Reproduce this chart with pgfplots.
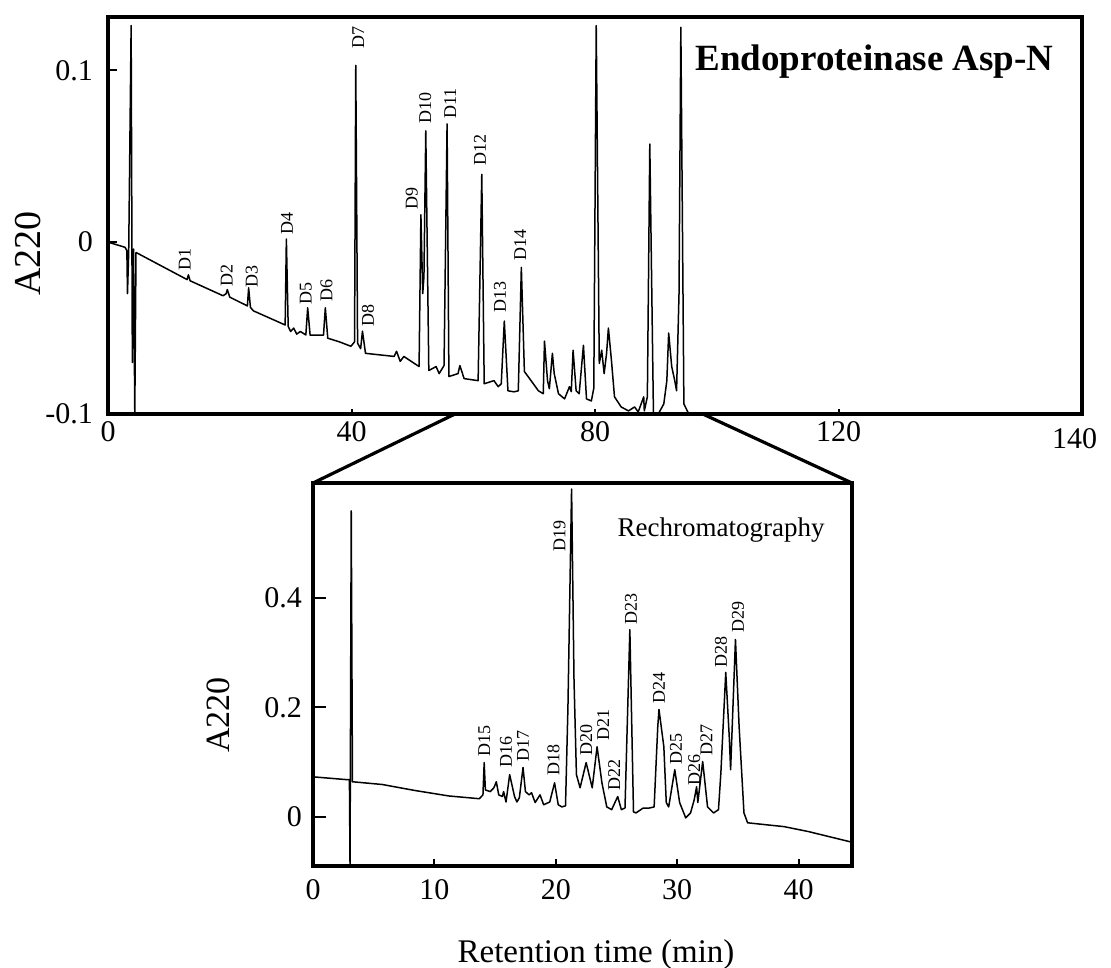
\documentclass[border=0pt]{standalone}
\usepackage{fontspec}
\setmainfont{Liberation Serif}
\usepackage{pgfplots}
\usepackage{pgfplotstable}
\pgfplotsset{compat=1.18}

\pgfplotstableread{
x y
0 0
2.8 -0.003
3.1 -0.005
3.2 -0.030
3.4 -0.006
3.8 0.126
4.0 -0.07
4.2 -0.004
4.4 -0.1
4.6 -0.006
13.0 -0.0218
13.2 -0.019
13.5 -0.0225
18.9 -0.0312
19.4 -0.030
19.6 -0.0276
20.0 -0.032
22.9 -0.0371
23.1 -0.0265
23.4 -0.038
23.9 -0.0400
29.1 -0.0482
29.3 0.0018
29.6 -0.049
30.0 -0.0520
30.5 -0.050
31.0 -0.0535
31.6 -0.052
32.5 -0.054
32.8 -0.0382
33.2 -0.0541
35.4 -0.0541
35.7 -0.0382
36.1 -0.0559
38.0 -0.058
39.9 -0.0606
40.5 -0.058
40.7 0.1029
41.0 -0.0588
41.5 -0.062
41.8 -0.0518
42.3 -0.0647
47.0 -0.0665
47.4 -0.0635
48.0 -0.0694
48.6 -0.0665
51.1 -0.0724
51.4 0.0159
51.7 -0.030
51.9 -0.020
52.2 0.0647
52.7 -0.0747
53.9 -0.0724
54.4 -0.0765
55.2 -0.0718
55.7 0.0688
56.0 -0.0782
57.5 -0.0765
57.8 -0.0718
58.5 -0.0794
60.8 -0.0806
61.4 0.0394
61.8 -0.0824
63.4 -0.0806
64.1 -0.0841
64.6 -0.0824
65.1 -0.0459
65.7 -0.0865
66.7 -0.0871
67.4 -0.0865
67.9 -0.0147
68.4 -0.0753
69.5 -0.0806
70.7 -0.0865
71.5 -0.0882
71.7 -0.0576
72.2 -0.0806
72.5 -0.0853
73.0 -0.0647
73.3 -0.0765
74.0 -0.0882
75.0 -0.0912
75.8 -0.0841
76.1 -0.087
76.4 -0.0629
76.9 -0.0865
77.4 -0.0882
78.1 -0.0600
78.6 -0.0912
79.4 -0.0924
79.8 -0.085
80.2 0.126
80.7 -0.0706
81.1 -0.0629
81.5 -0.0765
81.9 -0.0647
82.2 -0.0500
82.7 -0.0688
83.2 -0.0900
84.3 -0.0959
85.5 -0.0982
86.5 -0.0959
87.1 -0.0988
88.0 -0.0900
88.1 -0.0982
88.6 -0.090
89.0 0.0571
89.6 -0.1
90.4 -0.1
91.3 -0.0941
91.8 -0.0806
92.1 -0.0529
92.6 -0.0724
93.1 -0.0806
93.4 -0.0865
93.8 -0.030
94.1 0.125
94.6 -0.0941
95.4 -0.1
96.0 -0.1
}\digest

\pgfplotstableread{
x y
0 0.073
2.7 0.068
3.0 0.068
3.05 -0.09
3.15 0.559
3.25 0.064
5.7 0.059
8.4 0.048
11.2 0.038
13.7 0.033
14.0 0.040
14.1 0.099
14.2 0.049
14.6 0.046
14.9 0.053
15.1 0.064
15.3 0.040
15.6 0.037
15.7 0.046
15.9 0.027
16.2 0.077
16.6 0.037
16.8 0.027
17.0 0.035
17.3 0.090
17.5 0.046
17.8 0.040
18.0 0.044
18.3 0.026
18.7 0.040
19.0 0.022
19.5 0.027
19.9 0.062
20.2 0.022
20.5 0.018
20.8 0.020
21.0 0.200
21.3 0.599
21.5 0.250
21.7 0.077
22.0 0.053
22.5 0.099
23.0 0.053
23.4 0.128
23.8 0.062
24.2 0.018
24.6 0.013
25.1 0.037
25.4 0.013
25.7 0.016
26.1 0.342
26.4 0.009
26.6 0.007
27.2 0.016
27.7 0.016
28.1 0.018
28.4 0.165
28.5 0.196
28.9 0.128
29.1 0.026
29.3 0.018
29.8 0.086
30.2 0.026
30.7 -0.002
31.1 0.007
31.4 0.031
31.6 0.055
31.7 0.026
32.1 0.101
32.5 0.018
33.0 0.007
33.4 0.013
33.6 0.081
34.0 0.264
34.3 0.141
34.4 0.086
34.8 0.324
35.1 0.165
35.5 0.007
35.8 -0.011
37.5 -0.015
38.8 -0.018
40.8 -0.027
44.3 -0.046
}\rechrom

\pgfplotsset{
  chrom/.style={
    scale only axis,
    axis line style={line width=2pt},
    tick align=inside,
    xtick pos=bottom, ytick pos=left,
    major tick style={line width=1pt, black},
    tick label style={font=\fontsize{15}{15}\selectfont},
    /pgf/number format/assume math mode=true,
  },
  trace/.style={black, no markers, line width=0.75pt, line join=round},
}
\tikzset{pk/.style={rotate=90, font=\fontsize{9}{9}\selectfont, inner sep=0pt}}

\begin{document}
\begin{tikzpicture}
\useasboundingbox (0pt,0pt) rectangle (555.5pt,-483.5pt);

\begin{axis}[chrom,
  name=top, at={(54pt,-207pt)}, anchor=south west,
  width=487pt, height=198.5pt,
  xmin=0, xmax=160, ymin=-0.1, ymax=0.131,
  xtick={0,40,80,120}, xticklabels={0,40,80,120},
  ytick={-0.1,0,0.1}, yticklabels={-0.1,0,0.1},
  xtick style={/pgfplots/major tick length=2.5pt},
  ytick style={/pgfplots/major tick length=4.5pt},
  yticklabel style={xshift=-4pt},
  ylabel={A220},
  every axis y label/.style={at={(rel axis cs:-0.082,0.405)}, rotate=90, anchor=center, font=\fontsize{19}{19}\selectfont},
]
\addplot[trace] table[x=x,y=y] {\digest};
\node[pk] at (axis cs:12.6,-0.0100) {D1};
\node[pk] at (axis cs:19.5,-0.0194) {D2};
\node[pk] at (axis cs:23.6,-0.0200) {D3};
\node[pk] at (axis cs:29.4,0.0106) {D4};
\node[pk] at (axis cs:32.5,-0.0300) {D5};
\node[pk] at (axis cs:35.9,-0.0282) {D6};
\node[pk] at (axis cs:41.1,0.1188) {D7};
\node[pk] at (axis cs:42.7,-0.0429) {D8};
\node[pk] at (axis cs:49.9,0.0253) {D9};
\node[pk] at (axis cs:52.1,0.0782) {D10};
\node[pk] at (axis cs:56.2,0.0806) {D11};
\node[pk] at (axis cs:61.1,0.0535) {D12};
\node[pk] at (axis cs:64.4,-0.0318) {D13};
\node[pk] at (axis cs:67.7,-0.0018) {D14};
\node[font=\bfseries\fontsize{18.5}{18.5}\selectfont] at (rel axis cs:0.787,0.887) {Endoproteinase Asp-N};
\coordinate (lab140) at (axis cs:158.8,-0.1);
\coordinate (zl) at (axis cs:57.0,-0.1);
\coordinate (zr) at (axis cs:97.7,-0.1);
\end{axis}

\begin{axis}[chrom,
  name=bot, at={(156.5pt,-433pt)}, anchor=south west,
  width=269.5pt, height=191.5pt,
  xmin=0, xmax=44.4, ymin=-0.09, ymax=0.61,
  xtick={0,10,20,30,40},
  ytick={0,0.2,0.4}, yticklabels={0,0.2,0.4},
  xtick style={/pgfplots/major tick length=3.5pt},
  ytick style={/pgfplots/major tick length=6.5pt},
  yticklabel style={xshift=-2pt},
  xticklabel style={yshift=-3pt},
  ylabel={A220}, xlabel={Retention time (min)},
  every axis y label/.style={at={(rel axis cs:-0.176,0.394)}, rotate=90, anchor=center, font=\fontsize{17}{17}\selectfont},
  every axis x label/.style={at={(rel axis cs:0.525,-0.232)}, anchor=center, font=\fontsize{16.5}{16.5}\selectfont},
]
\addplot[trace] table[x=x,y=y] {\rechrom};
\node[pk] at (axis cs:14.1,0.139) {D15};
\node[pk] at (axis cs:15.9,0.119) {D16};
\node[pk] at (axis cs:17.3,0.130) {D17};
\node[pk] at (axis cs:19.8,0.104) {D18};
\node[pk] at (axis cs:20.3,0.513) {D19};
\node[pk] at (axis cs:22.5,0.141) {D20};
\node[pk] at (axis cs:23.9,0.168) {D21};
\node[pk] at (axis cs:24.8,0.077) {D22};
\node[pk] at (axis cs:26.2,0.379) {D23};
\node[pk] at (axis cs:28.5,0.236) {D24};
\node[pk] at (axis cs:29.9,0.123) {D25};
\node[pk] at (axis cs:31.4,0.086) {D26};
\node[pk] at (axis cs:32.4,0.141) {D27};
\node[pk] at (axis cs:33.6,0.302) {D28};
\node[pk] at (axis cs:35.0,0.366) {D29};
\node[font=\fontsize{13.5}{13.5}\selectfont] at (rel axis cs:0.757,0.877) {Rechromatography};
\end{axis}

\node[font=\fontsize{15}{15}\selectfont, anchor=north, yshift=-3.5pt] at (lab140) {140};
\draw[line width=1.6pt] (zl) -- (bot.north west);
\draw[line width=1.6pt] (zr) -- (bot.north east);
\end{tikzpicture}
\end{document}
